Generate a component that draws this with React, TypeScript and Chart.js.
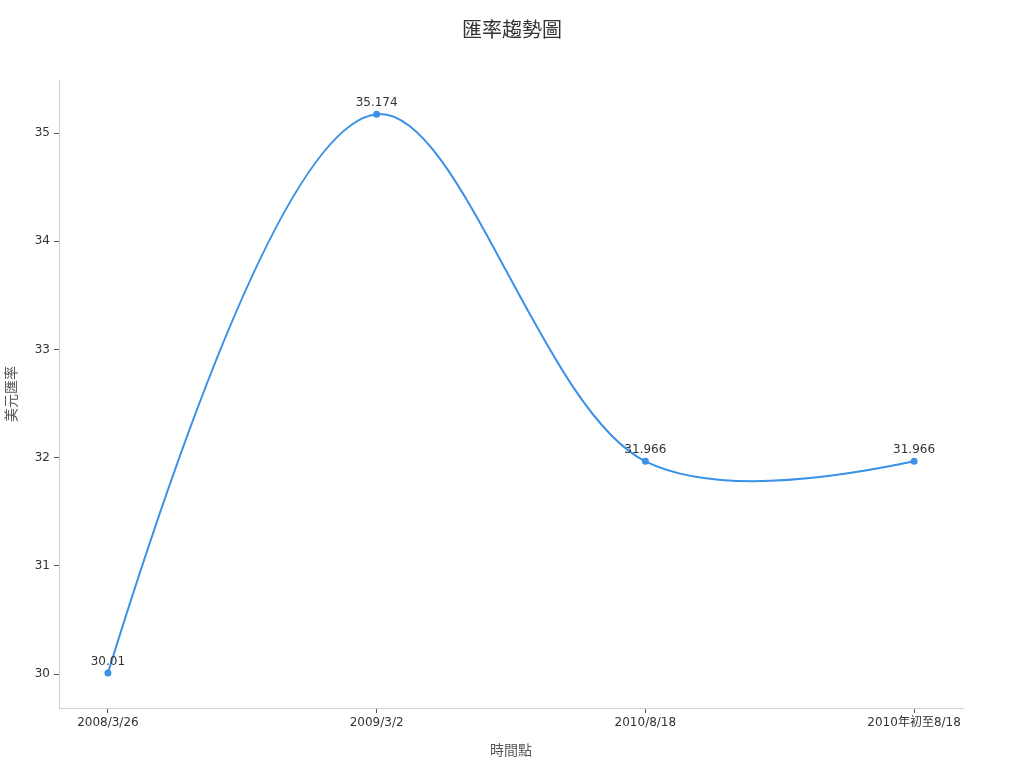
import { useEffect, useRef } from 'react';
import { Chart, registerables, Plugin } from 'chart.js';

Chart.register(...registerables);

// 時間點 / 美元匯率
const timePoints = ['2008/3/26', '2009/3/2', '2010/8/18', '2010年初至8/18'];
const usdRates = [30.01, 35.174, 31.966, 31.966];
const yTicks = [30, 31, 32, 33, 34, 35];

const FONT = '"DejaVu Sans", "Noto Sans CJK TC", sans-serif';
const TITLE = '匯率趨勢圖';

type Pt = { x: number; y: number; cp1x?: number; cp1y?: number; cp2x?: number; cp2y?: number };

// centripetal catmull-rom style tangents (smoothing = 1)
function tangent(prev: Pt, cur: Pt, next: Pt, smooth = 1) {
  const d1x = prev.x - cur.x, d1y = prev.y - cur.y;
  const d2x = next.x - cur.x, d2y = next.y - cur.y;
  const d1a = Math.pow(d1x * d1x + d1y * d1y, 0.25);
  const d2a = Math.pow(d2x * d2x + d2y * d2y, 0.25);
  const numx = (d2a * d2a * d1x - d1a * d1a * d2x) * smooth;
  const numy = (d2a * d2a * d1y - d1a * d1a * d2y) * smooth;
  const den1 = 3 * d2a * (d1a + d2a);
  const den2 = 3 * d1a * (d1a + d2a);
  return {
    inX: cur.x + (den1 ? numx / den1 : 0), inY: cur.y + (den1 ? numy / den1 : 0),
    outX: cur.x - (den2 ? numx / den2 : 0), outY: cur.y - (den2 ? numy / den2 : 0),
  };
}

const splineCps: Plugin<'line'> = {
  id: 'splineCps',
  beforeDatasetDraw(chart, args) {
    const line: any = args.meta.dataset;
    if (line && typeof line.updateControlPoints === 'function') line.updateControlPoints(chart.chartArea, 'x');
    const pts = args.meta.data as unknown as Pt[];
    const n = pts.length;
    if (n < 3) return;
    const tg = [];
    for (let i = 1; i < n - 1; i++) tg.push(tangent(pts[i - 1], pts[i], pts[i + 1]));
    // first segment: quadratic
    const q0 = { x: tg[0].inX, y: tg[0].inY };
    pts[0].cp2x = pts[0].x + (2 / 3) * (q0.x - pts[0].x);
    pts[0].cp2y = pts[0].y + (2 / 3) * (q0.y - pts[0].y);
    pts[1].cp1x = pts[1].x + (2 / 3) * (q0.x - pts[1].x);
    pts[1].cp1y = pts[1].y + (2 / 3) * (q0.y - pts[1].y);
    for (let i = 1; i < n - 2; i++) {
      pts[i].cp2x = tg[i - 1].outX; pts[i].cp2y = tg[i - 1].outY;
      pts[i + 1].cp1x = tg[i].inX; pts[i + 1].cp1y = tg[i].inY;
    }
    // last segment: quadratic
    const t = tg[n - 3];
    const a = pts[n - 2], b = pts[n - 1];
    a.cp2x = a.x + (2 / 3) * (t.outX - a.x);
    a.cp2y = a.y + (2 / 3) * (t.outY - a.y);
    b.cp1x = b.x + (2 / 3) * (t.outX - b.x);
    b.cp1y = b.y + (2 / 3) * (t.outY - b.y);
    pts[0].cp1x = pts[0].x; pts[0].cp1y = pts[0].y;
    b.cp2x = b.x; b.cp2y = b.y;
    if (line) line._path = undefined;
  },
};

const valueLabels: Plugin<'line'> = {
  id: 'valueLabels',
  afterDatasetsDraw(chart) {
    const { ctx } = chart;
    const meta = chart.getDatasetMeta(0);
    ctx.save();
    ctx.font = `12px ${FONT}`;
    ctx.fillStyle = '#333';
    ctx.textAlign = 'center';
    ctx.textBaseline = 'bottom';
    meta.data.forEach((pt, i) => {
      ctx.fillText(String(usdRates[i]), pt.x, pt.y - 5);
    });
    ctx.restore();
  },
};

const centerTitle: Plugin<'line'> = {
  id: 'centerTitle',
  afterDraw(chart) {
    const { ctx, width } = chart;
    ctx.save();
    ctx.font = `20px ${FONT}`;
    ctx.fillStyle = '#333';
    ctx.textAlign = 'center';
    ctx.textBaseline = 'middle';
    ctx.fillText(TITLE, width / 2, 32);
    ctx.restore();
  },
};

export default function App() {
  const canvasRef = useRef<HTMLCanvasElement>(null);

  useEffect(() => {
    document.body.style.margin = '0';
    if (!canvasRef.current) return;

    const chart = new Chart(canvasRef.current, {
      type: 'line',
      data: {
        datasets: [{
          label: '美元匯率',
          data: usdRates.map((v, i) => ({ x: i, y: v })),
          borderColor: '#3a91e6',
          backgroundColor: '#3a91e6',
          borderWidth: 2,
          pointRadius: 2.5,
          tension: 0.4,
          fill: false,
        }],
      },
      options: {
        responsive: true,
        maintainAspectRatio: false,
        animation: false,
        layout: { padding: { left: 0, right: 61, top: 80, bottom: 0 } },
        scales: {
          x: {
            type: 'linear',
            min: -0.182,
            max: 3.182,
            afterBuildTicks: (scale) => { scale.ticks = timePoints.map((_, i) => ({ value: i })); },
            afterFit: (scale) => { scale.height = 60; },
            grid: { drawOnChartArea: false, drawTicks: true, tickLength: 5, color: '#555' },
            border: { color: '#d0d0d0' },
            ticks: {
              color: '#333',
              font: { family: FONT, size: 12 },
              padding: 3,
              maxRotation: 0,
              autoSkip: false,
              callback: (v) => timePoints[Number(v)] ?? '',
            },
            title: {
              display: true,
              text: '時間點',
              color: '#555',
              font: { family: FONT, size: 14 },
              padding: { top: 0, bottom: 8 },
            },
          },
          y: {
            min: 29.686,
            max: 35.49,
            afterBuildTicks: (scale) => { scale.ticks = yTicks.map((v) => ({ value: v })); },
            afterFit: (scale) => { scale.width = 59; },
            grid: { drawOnChartArea: false, drawTicks: true, tickLength: 5, color: '#555' },
            border: { color: '#d0d0d0' },
            ticks: {
              color: '#333',
              font: { family: FONT, size: 12 },
              padding: 4,
            },
            title: {
              display: true,
              text: '美元匯率',
              color: '#555',
              font: { family: FONT, size: 14 },
              padding: { top: 4, bottom: 0 },
            },
          },
        },
        plugins: {
          legend: { display: false },
          tooltip: { enabled: false },
          title: { display: false },
        },
      },
      plugins: [splineCps, valueLabels, centerTitle],
    });

    return () => { chart.destroy(); };
  }, []);

  return (
    <div style={{ width: 1024, height: 768, position: 'relative', background: '#fff' }}>
      <canvas ref={canvasRef} />
    </div>
  );
}
